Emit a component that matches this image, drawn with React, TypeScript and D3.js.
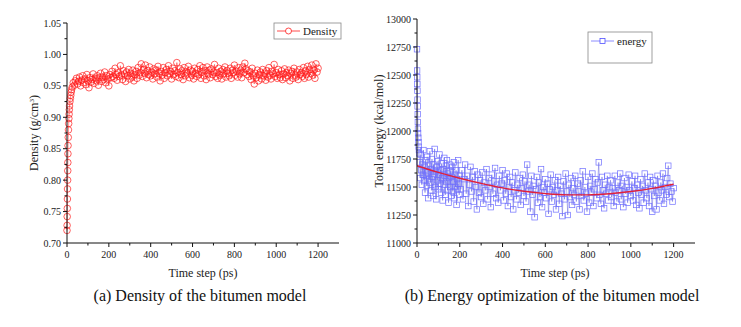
import React from "react";
import * as d3 from "d3";

// density, early rise: [time (ps), density x1000]
const densityEarly: [number, number][] = [
  [0, 720], [0.5, 728], [1, 742], [1.5, 755], [2, 770], [2.5, 786], [3, 800],
  [3.5, 815], [4, 828], [4.5, 842], [5, 855], [6, 868], [7, 880], [8, 890],
  [9, 898], [10, 905], [11, 912], [12, 918], [14, 925], [16, 930], [18, 935],
  [20, 940], [22, 944]
];
// density x1000, every 5 ps from 25 ps to 1200 ps
const densityStart = 25;
const densityStep = 5;
const densityValues = [
  948, 955, 951, 958, 962, 953, 957, 964, 950, 959, 966, 955, 961, 952, 968, 958, 947, 963, 956, 960,
  969, 954, 962, 958, 966, 951, 963, 970, 957, 964, 960, 972, 955, 966, 961, 950, 968, 963, 973, 965,
  962, 978, 968, 959, 971, 965, 982, 967, 960, 974, 969, 957, 972, 966, 976, 961, 970, 964, 975, 958,
  968, 973, 962, 979, 967, 971, 985, 965, 976, 970, 983, 963, 974, 968, 980, 966, 972, 961, 977, 969,
  975, 964, 981, 970, 958, 973, 967, 979, 962, 971, 976, 966, 982, 969, 973, 961, 978, 968, 974, 965,
  987, 971, 963, 977, 968, 974, 960, 979, 966, 972, 969, 981, 963, 975, 967, 973, 961, 978, 970, 965,
  976, 968, 982, 962, 972, 979, 966, 974, 960, 980, 969, 975, 963, 977, 968, 972, 984, 965, 971, 962,
  978, 967, 973, 961, 976, 969, 980, 964, 974, 970, 966, 978, 962, 975, 971, 983, 967, 973, 964, 979,
  969, 975, 963, 980, 971, 986, 977, 968, 974, 965, 972, 960, 978, 966, 953, 970, 963, 975, 958, 968,
  972, 961, 976, 966, 970, 959, 974, 964, 979, 967, 961, 973, 969, 984, 965, 971, 962, 976, 968, 963,
  974, 960, 969, 977, 963, 971, 966, 975, 958, 970, 973, 962, 978, 967, 964, 972, 960, 976, 968, 971,
  965, 979, 962, 974, 968, 981, 964, 976, 970, 983, 967, 975, 962, 985, 972, 978
];

// energy, early drop: [time (ps), kcal/mol]
const energyEarly: [number, number][] = [
  [0, 12730], [0.5, 12540], [1, 12480], [1.5, 12420], [2, 12360], [2.5, 12280],
  [3, 12220], [3.5, 12150], [4, 12080], [4.5, 12020], [5, 11980], [6, 11940],
  [7, 11900], [8, 11860], [9, 11830], [10, 11800]
];
// energy every 2.5 ps from 12.5 to 200 ps
const energyMidStart = 12.5;
const energyMidStep = 2.5;
const energyMid = [
  11720, 11580, 11790, 11650, 11520, 11700, 11610, 11830, 11560, 11680, 11450, 11740, 11600, 11510, 11770, 11630, 11400, 11690, 11570, 11820,
  11540, 11660, 11470, 11750, 11590, 11420, 11700, 11620, 11840, 11500, 11640, 11390, 11680, 11560, 11730, 11480, 11610, 11790, 11530, 11650,
  11450, 11710, 11580, 11380, 11660, 11520, 11760, 11600, 11430, 11690, 11550, 11740, 11470, 11620, 11360, 11580, 11700, 11500, 11640, 11420,
  11590, 11680, 11460, 11550, 11720, 11400, 11610, 11500, 11650, 11340, 11570, 11480, 11740, 11530, 11430, 11600
];
// energy every 5 ps from 205 to 1200 ps
const energyLateStart = 205;
const energyLateStep = 5;
const energyLate = [
  11480, 11650, 11390, 11570, 11700, 11440, 11600, 11330, 11520, 11680, 11460, 11590, 11370, 11640, 11500, 11300, 11610, 11450, 11560, 11410,
  11630, 11350, 11540, 11470, 11660, 11390, 11580, 11500, 11320, 11610, 11440, 11550, 11670, 11400, 11520, 11360, 11600, 11470, 11530, 11650,
  11380, 11560, 11440, 11620, 11330, 11500, 11590, 11410, 11540, 11300, 11470, 11630, 11390, 11520, 11450, 11580, 11340, 11490, 11610, 11420,
  11550, 11370, 11700, 11460, 11520, 11280, 11600, 11430, 11510, 11230, 11480, 11590, 11360, 11540, 11410, 11660, 11320, 11500, 11450, 11570,
  11400, 11530, 11260, 11480, 11610, 11370, 11500, 11430, 11560, 11300, 11470, 11590, 11350, 11510, 11440, 11240, 11550, 11390, 11620, 11460,
  11250, 11520, 11410, 11580, 11340, 11490, 11430, 11600, 11370, 11530, 11460, 11300, 11560, 11420, 11640, 11380, 11500, 11440, 11280, 11590,
  11360, 11510, 11450, 11620, 11330, 11480, 11570, 11400, 11540, 11720, 11430, 11350, 11590, 11470, 11310, 11520, 11440, 11600, 11380, 11500,
  11560, 11410, 11490, 11330, 11600, 11450, 11370, 11540, 11470, 11620, 11390, 11510, 11320, 11580, 11440, 11500, 11360, 11610, 11470, 11420,
  11550, 11380, 11490, 11600, 11340, 11520, 11450, 11310, 11570, 11430, 11510, 11360, 11620, 11470, 11400, 11540, 11330, 11590, 11480, 11280,
  11560, 11420, 11510, 11300, 11600, 11450, 11380, 11540, 11470, 11620, 11350, 11500, 11430, 11580, 11690, 11410, 11530, 11460, 11370, 11490
];
// red fitted curve
const energyFit: [number, number][] = [
  [0, 11690], [100, 11630], [200, 11578], [300, 11532], [400, 11492], [500, 11462],
  [600, 11441], [700, 11430], [800, 11430], [900, 11440], [1000, 11460], [1100, 11488], [1200, 11525]
];

const xTicks = [0, 200, 400, 600, 800, 1000, 1200];
const densityTicks = [0.7, 0.75, 0.8, 0.85, 0.9, 0.95, 1.0, 1.05];
const energyTicks = [11000, 11250, 11500, 11750, 12000, 12250, 12500, 12750, 13000];

const FONT = "'Liberation Serif', 'Times New Roman', serif";

const density: [number, number][] = [
  ...densityEarly.map(([t, v]) => [t, v / 1000] as [number, number]),
  ...densityValues.map((v, i) => [densityStart + i * densityStep, v / 1000] as [number, number])
];
const energy: [number, number][] = [
  ...energyEarly,
  ...energyMid.map((v, i) => [energyMidStart + i * energyMidStep, v] as [number, number]),
  ...energyLate.map((v, i) => [energyLateStart + i * energyLateStep, v] as [number, number])
];

type AxisProps = {
  x: d3.ScaleLinear<number, number>;
  y: d3.ScaleLinear<number, number>;
  yTicks: number[];
  yFormat: (v: number) => string;
};

function Axes({ x, y, yTicks, yFormat }: AxisProps) {
  const x0 = x.range()[0];
  const y0 = y.range()[0];
  const xMinor = d3.range(100, 1300, 200);
  const yStep = yTicks[1] - yTicks[0];
  const yMinor = yTicks.slice(0, -1).map(v => v + yStep / 2);
  return (
    <g fontFamily={FONT} fontSize={10} fill="#222">
      <line x1={x0} x2={x.range()[1]} y1={y0} y2={y0} stroke="#111" strokeWidth={1} />
      <line x1={x0} x2={x0} y1={y0} y2={y.range()[1]} stroke="#111" strokeWidth={1} />
      {xTicks.map(t => (
        <g key={"xt" + t}>
          <line x1={x(t)} x2={x(t)} y1={y0} y2={y0 + 4} stroke="#111" />
          <text x={x(t)} y={y0 + 15} textAnchor="middle">{t}</text>
        </g>
      ))}
      {xMinor.map(t => (
        <line key={"xm" + t} x1={x(t)} x2={x(t)} y1={y0} y2={y0 + 2.5} stroke="#111" />
      ))}
      {yTicks.map(t => (
        <g key={"yt" + t}>
          <line x1={x0 - 4} x2={x0} y1={y(t)} y2={y(t)} stroke="#111" />
          <text x={x0 - 6} y={y(t) + 3.5} textAnchor="end">{yFormat(t)}</text>
        </g>
      ))}
      {yMinor.map(t => (
        <line key={"ym" + t} x1={x0 - 2.5} x2={x0} y1={y(t)} y2={y(t)} stroke="#111" />
      ))}
    </g>
  );
}

function DensityChart() {
  const x = d3.scaleLinear().domain([0, 1300]).range([67, 339]);
  const y = d3.scaleLinear().domain([0.7, 1.05]).range([243, 23]);
  const path = d3.line<[number, number]>().x(d => x(d[0])).y(d => y(d[1]))(density) || "";
  return (
    <g>
      <path d={path} fill="none" stroke="#ff2020" strokeWidth={0.5} />
      {density.map((d, i) => (
        <circle key={i} cx={x(d[0])} cy={y(d[1])} r={3.3} fill="none" stroke="#ff1a1a" strokeWidth={0.7} />
      ))}
      <Axes x={x} y={y} yTicks={densityTicks} yFormat={d3.format(".2f")} />
      <g fontFamily={FONT}>
        <rect x={274} y={23} width={67} height={16} fill="white" stroke="#888" strokeWidth={0.8} />
        <line x1={277} x2={300} y1={31} y2={31} stroke="#ff2020" strokeWidth={0.8} />
        <circle cx={288.5} cy={31} r={3} fill="white" stroke="#ff1a1a" strokeWidth={0.8} />
        <text x={303} y={35} fontSize={11} fill="#222">Density</text>
        <text transform="translate(38,133) rotate(-90)" textAnchor="middle" fontSize={12} fill="#222">
          Density (g/cm<tspan baselineShift="super" fontSize={7}>3</tspan>)
        </text>
        <text x={203} y={277} textAnchor="middle" fontSize={12} fill="#222">Time step (ps)</text>
        <text x={200} y={301} textAnchor="middle" fontSize={16} fill="#111">(a) Density of the bitumen model</text>
      </g>
    </g>
  );
}

function EnergyChart() {
  const x = d3.scaleLinear().domain([0, 1300]).range([417, 695]);
  const y = d3.scaleLinear().domain([11000, 13000]).range([243, 19]);
  const path = d3.line<[number, number]>().x(d => x(d[0])).y(d => y(d[1]))(energy) || "";
  const fit = d3.line<[number, number]>().x(d => x(d[0])).y(d => y(d[1])).curve(d3.curveMonotoneX)(energyFit) || "";
  const s = 5.5;
  return (
    <g>
      <path d={path} fill="none" stroke="#1a1ad0" strokeWidth={0.4} strokeOpacity={0.8} />
      {energy.map((d, i) => (
        <rect key={i} x={x(d[0]) - s / 2} y={y(d[1]) - s / 2} width={s} height={s} fill="none" stroke="#7070ff" strokeWidth={0.7} />
      ))}
      <path d={fit} fill="none" stroke="#e0203a" strokeWidth={1.4} />
      <Axes x={x} y={y} yTicks={energyTicks} yFormat={d3.format("d")} />
      <g fontFamily={FONT}>
        <rect x={588} y={32} width={64} height={31} fill="white" stroke="#888" strokeWidth={0.8} />
        <line x1={591} x2={614} y1={41} y2={41} stroke="#7070ff" strokeWidth={0.8} />
        <rect x={602.5 - 2.5} y={38.5} width={5} height={5} fill="white" stroke="#5050ff" strokeWidth={0.8} />
        <text x={617} y={45} fontSize={11} fill="#222">energy</text>
        <text transform="translate(383,131) rotate(-90)" textAnchor="middle" fontSize={12} fill="#222">
          Total energy (kcal/mol)
        </text>
        <text x={555} y={277} textAnchor="middle" fontSize={12} fill="#222">Time step (ps)</text>
        <text x={552} y={301} textAnchor="middle" fontSize={16} fill="#111">(b) Energy optimization of the bitumen model</text>
      </g>
    </g>
  );
}

export default function App() {
  return (
    <svg width={741} height={327} style={{ position: "absolute", left: 0, top: 0, background: "white" }}>
      <rect width={741} height={327} fill="white" />
      <DensityChart />
      <EnergyChart />
    </svg>
  );
}
